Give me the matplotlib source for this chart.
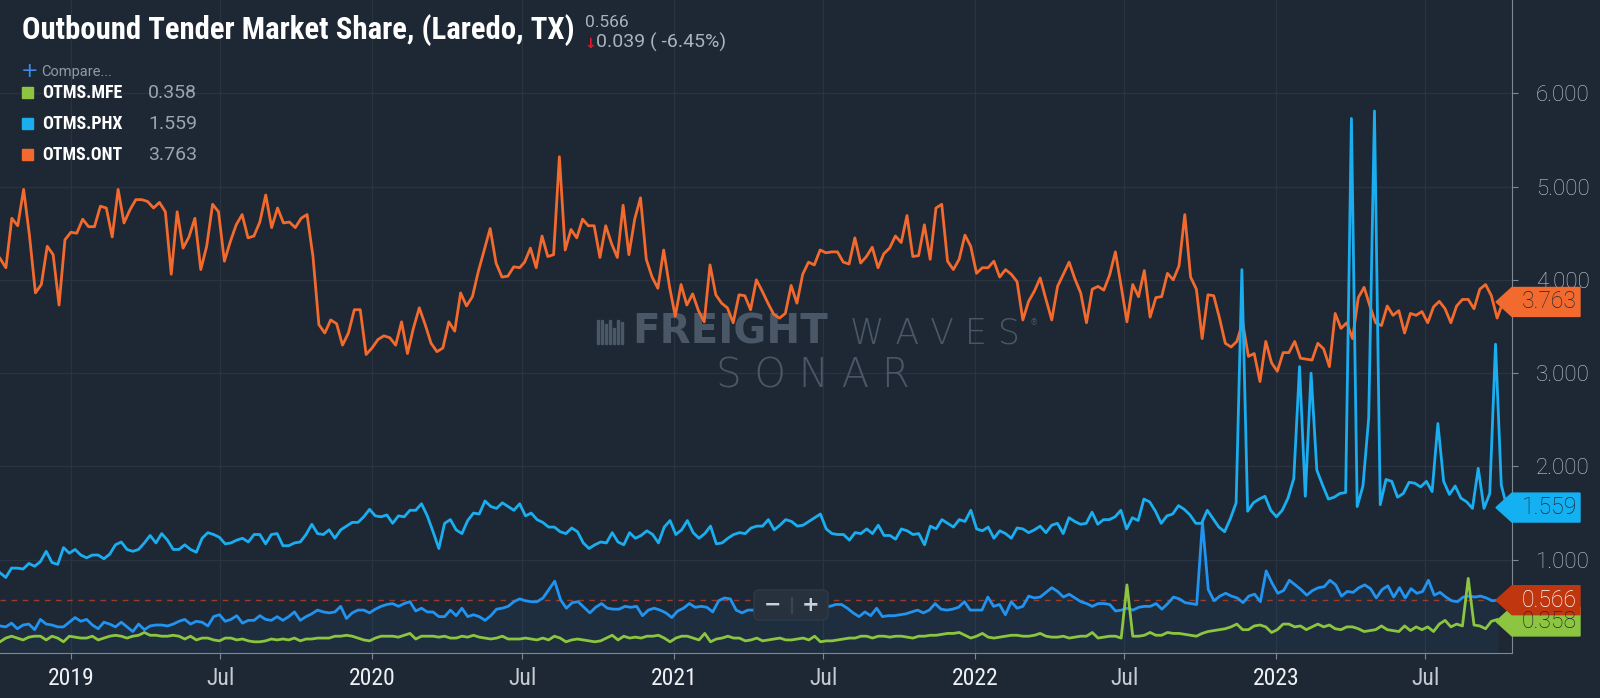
"""
Outbound Tender Market Share (Laredo, TX) - SONAR style chart recreation.
"""

import numpy as np
import pandas as pd
import matplotlib
matplotlib.use("Agg")
import matplotlib.pyplot as plt
import matplotlib.transforms as mtransforms
from matplotlib import font_manager as fm
from matplotlib.patches import Polygon, FancyBboxPatch, Rectangle

# ── data (weekly in three date spans) ───────────────────────────────────────
ont_spans = [("2018-10-07", "2020-06-28"), ("2020-07-04", "2022-02-21"),
             ("2022-02-28", "2023-10-03")]
ont_a = [4.23, 4.13, 4.66, 4.58, 4.97, 4.47, 3.86, 3.95, 4.36, 4.27,
         3.73, 4.43, 4.51, 4.50, 4.65, 4.57, 4.57, 4.79, 4.77, 4.46,
         4.97, 4.61, 4.75, 4.86, 4.86, 4.84, 4.77, 4.83, 4.73, 4.06,
         4.73, 4.34, 4.46, 4.66, 4.11, 4.36, 4.81, 4.73, 4.20, 4.41,
         4.59, 4.70, 4.45, 4.47, 4.62, 4.91, 4.56, 4.77, 4.61, 4.62,
         4.56, 4.66, 4.70, 4.25, 3.52, 3.43, 3.57, 3.53, 3.30, 3.43,
         3.68, 3.68, 3.20, 3.27, 3.36, 3.40, 3.38, 3.30, 3.55, 3.21,
         3.48, 3.70, 3.52, 3.32, 3.23, 3.27, 3.55, 3.45, 3.86, 3.72,
         3.82, 4.09, 4.32, 4.55, 4.18, 4.03, 4.04, 4.14, 4.13]
ont_b = [4.19, 4.34, 4.13, 4.47, 4.25, 4.27, 5.32, 4.32, 4.54, 4.45,
         4.65, 4.58, 4.58, 4.24, 4.58, 4.39, 4.24, 4.80, 4.27, 4.65,
         4.88, 4.22, 4.03, 3.91, 4.32, 3.93, 3.61, 3.95, 3.73, 3.85,
         3.67, 3.55, 4.16, 3.84, 3.75, 3.70, 3.54, 3.84, 3.83, 3.68,
         4.00, 3.88, 3.75, 3.63, 3.59, 3.64, 3.94, 3.75, 4.06, 4.19,
         4.16, 4.32, 4.29, 4.30, 4.30, 4.19, 4.17, 4.45, 4.18, 4.25,
         4.35, 4.13, 4.28, 4.34, 4.47, 4.40, 4.69, 4.25, 4.26, 4.59,
         4.22, 4.77, 4.81, 4.20, 4.11, 4.22, 4.48, 4.36, 4.07, 4.13,
         4.13, 4.20, 4.03, 4.11, 4.06, 3.98]
ont_c = [3.57, 3.77, 3.88, 4.02, 3.79, 3.57, 3.93, 4.06, 4.19, 4.01,
         3.86, 3.54, 3.90, 3.93, 3.89, 4.05, 4.30, 3.93, 3.55, 3.95,
         3.82, 4.10, 3.60, 3.81, 3.82, 4.07, 4.00, 4.15, 4.70, 4.03,
         3.90, 3.37, 3.84, 3.83, 3.59, 3.32, 3.28, 3.34, 3.54, 3.18,
         3.21, 2.91, 3.34, 3.11, 3.02, 3.22, 3.22, 3.34, 3.16, 3.15,
         3.14, 3.32, 3.26, 3.07, 3.64, 3.48, 3.54, 3.37, 3.81, 3.92,
         3.72, 3.54, 3.51, 3.72, 3.62, 3.67, 3.43, 3.64, 3.62, 3.66,
         3.54, 3.71, 3.77, 3.69, 3.54, 3.72, 3.79, 3.79, 3.69, 3.90,
         3.95, 3.83, 3.59, 3.763]

phx_spans = [("2018-10-07", "2020-06-28"), ("2020-07-05", "2022-02-21"),
             ("2022-02-28", "2023-10-08")]
phx_a = [0.86, 0.81, 0.91, 0.91, 0.90, 0.96, 0.93, 0.98, 1.09, 0.97,
         0.95, 1.13, 1.07, 1.11, 1.05, 1.02, 1.05, 1.05, 1.01, 1.06,
         1.16, 1.19, 1.11, 1.09, 1.11, 1.18, 1.26, 1.18, 1.28, 1.21,
         1.11, 1.11, 1.16, 1.11, 1.08, 1.23, 1.29, 1.27, 1.24, 1.17,
         1.18, 1.21, 1.23, 1.19, 1.27, 1.27, 1.17, 1.27, 1.28, 1.15,
         1.15, 1.18, 1.19, 1.27, 1.38, 1.28, 1.27, 1.32, 1.23, 1.32,
         1.36, 1.40, 1.40, 1.46, 1.54, 1.47, 1.46, 1.48, 1.39, 1.47,
         1.46, 1.53, 1.53, 1.60, 1.47, 1.30, 1.12, 1.39, 1.43, 1.32,
         1.28, 1.42, 1.50, 1.49, 1.63, 1.57, 1.55, 1.61, 1.57, 1.53,
         1.60]
phx_b = [1.47, 1.50, 1.43, 1.40, 1.35, 1.35, 1.30, 1.28, 1.34, 1.30,
         1.18, 1.12, 1.16, 1.19, 1.18, 1.29, 1.19, 1.16, 1.29, 1.23,
         1.26, 1.31, 1.27, 1.18, 1.35, 1.42, 1.27, 1.32, 1.42, 1.29,
         1.23, 1.28, 1.36, 1.17, 1.18, 1.23, 1.27, 1.29, 1.28, 1.34,
         1.36, 1.36, 1.43, 1.32, 1.37, 1.43, 1.41, 1.36, 1.37, 1.41,
         1.45, 1.49, 1.33, 1.28, 1.27, 1.27, 1.21, 1.29, 1.28, 1.33,
         1.28, 1.37, 1.26, 1.26, 1.22, 1.33, 1.31, 1.27, 1.28, 1.16,
         1.36, 1.33, 1.43, 1.39, 1.35, 1.43, 1.41, 1.53, 1.33, 1.31,
         1.35, 1.23, 1.31, 1.28, 1.23, 1.34]
phx_c = [1.33, 1.29, 1.32, 1.36, 1.29, 1.37, 1.39, 1.28, 1.45, 1.41,
         1.38, 1.39, 1.51, 1.38, 1.43, 1.43, 1.46, 1.53, 1.33, 1.45,
         1.42, 1.65, 1.62, 1.52, 1.39, 1.47, 1.49, 1.58, 1.54, 1.48,
         1.39, 1.39, 1.53, 1.44, 1.35, 1.30, 1.44, 1.61, 4.11, 1.52,
         1.61, 1.65, 1.68, 1.53, 1.46, 1.53, 1.66, 1.87, 3.07, 1.68,
         3.00, 1.96, 1.80, 1.65, 1.67, 1.71, 1.72, 5.73, 1.57, 1.79,
         2.52, 5.81, 1.59, 1.86, 1.84, 1.67, 1.71, 1.83, 1.82, 1.78,
         1.84, 1.73, 2.46, 1.84, 1.70, 1.79, 1.66, 1.62, 1.55, 1.98,
         1.55, 1.71, 3.31, 1.80, 1.559]

laredo_spans = [("2018-10-07", "2020-06-28"), ("2020-07-05", "2022-02-21"),
                ("2022-02-28", "2023-09-27")]
laredo_a = [0.29, 0.28, 0.32, 0.26, 0.30, 0.31, 0.25, 0.36, 0.31, 0.30,
            0.28, 0.28, 0.33, 0.38, 0.34, 0.36, 0.30, 0.26, 0.33, 0.31,
            0.28, 0.33, 0.28, 0.23, 0.31, 0.25, 0.29, 0.30, 0.30, 0.29,
            0.31, 0.34, 0.36, 0.31, 0.34, 0.33, 0.29, 0.39, 0.41, 0.34,
            0.36, 0.40, 0.32, 0.35, 0.35, 0.40, 0.36, 0.35, 0.39, 0.35,
            0.39, 0.44, 0.35, 0.39, 0.42, 0.46, 0.44, 0.43, 0.44, 0.50,
            0.37, 0.43, 0.46, 0.46, 0.43, 0.47, 0.50, 0.52, 0.53, 0.50,
            0.53, 0.55, 0.45, 0.48, 0.44, 0.44, 0.39, 0.39, 0.46, 0.40,
            0.48, 0.39, 0.41, 0.39, 0.35, 0.40, 0.47, 0.48, 0.50, 0.55,
            0.58]
laredo_b = [0.56, 0.55, 0.55, 0.59, 0.68, 0.77, 0.57, 0.48, 0.54, 0.55,
            0.49, 0.43, 0.49, 0.53, 0.48, 0.47, 0.47, 0.50, 0.49, 0.50,
            0.40, 0.46, 0.48, 0.46, 0.43, 0.38, 0.45, 0.48, 0.53, 0.49,
            0.50, 0.49, 0.44, 0.56, 0.59, 0.58, 0.46, 0.43, 0.46, 0.46,
            0.47, 0.48, 0.50, 0.49, 0.47, 0.48, 0.50, 0.49, 0.48, 0.50,
            0.51, 0.50, 0.50, 0.52, 0.52, 0.48, 0.43, 0.39, 0.44, 0.40,
            0.48, 0.39, 0.40, 0.40, 0.41, 0.42, 0.44, 0.46, 0.43, 0.46,
            0.53, 0.47, 0.46, 0.47, 0.49, 0.55, 0.46, 0.46, 0.46, 0.60,
            0.50, 0.52, 0.41, 0.55, 0.48]
laredo_c = [0.50, 0.61, 0.59, 0.60, 0.65, 0.70, 0.66, 0.60, 0.63, 0.59,
            0.55, 0.53, 0.50, 0.53, 0.53, 0.52, 0.45, 0.46, 0.48, 0.46,
            0.49, 0.50, 0.50, 0.53, 0.47, 0.53, 0.60, 0.58, 0.54, 0.53,
            0.52, 1.40, 0.68, 0.56, 0.61, 0.64, 0.61, 0.59, 0.54, 0.61,
            0.63, 0.55, 0.88, 0.75, 0.64, 0.67, 0.78, 0.73, 0.68, 0.62,
            0.67, 0.70, 0.71, 0.78, 0.73, 0.61, 0.66, 0.65, 0.70, 0.73,
            0.69, 0.59, 0.68, 0.72, 0.60, 0.70, 0.59, 0.69, 0.64, 0.66,
            0.78, 0.62, 0.65, 0.60, 0.56, 0.55, 0.60, 0.61, 0.60, 0.61,
            0.59, 0.56, 0.566]

mfe_spans = [("2018-10-07", "2020-06-28"), ("2020-07-05", "2022-02-21"),
             ("2022-02-28", "2023-09-26")]
mfe_a = [0.12, 0.16, 0.18, 0.16, 0.14, 0.17, 0.18, 0.18, 0.14, 0.18,
         0.16, 0.12, 0.18, 0.17, 0.16, 0.16, 0.18, 0.14, 0.16, 0.18,
         0.19, 0.18, 0.16, 0.18, 0.19, 0.22, 0.19, 0.19, 0.18, 0.18,
         0.19, 0.18, 0.15, 0.18, 0.14, 0.16, 0.16, 0.14, 0.13, 0.16,
         0.16, 0.14, 0.15, 0.13, 0.12, 0.12, 0.13, 0.15, 0.14, 0.15,
         0.14, 0.16, 0.13, 0.15, 0.15, 0.16, 0.16, 0.16, 0.18, 0.18,
         0.19, 0.18, 0.16, 0.14, 0.13, 0.16, 0.18, 0.18, 0.18, 0.17,
         0.19, 0.21, 0.15, 0.18, 0.18, 0.18, 0.17, 0.18, 0.16, 0.16,
         0.18, 0.17, 0.19, 0.17, 0.16, 0.15, 0.16, 0.18, 0.15, 0.15,
         0.15]
mfe_b = [0.16, 0.15, 0.14, 0.16, 0.14, 0.18, 0.16, 0.12, 0.14, 0.15,
         0.14, 0.13, 0.12, 0.13, 0.16, 0.19, 0.14, 0.18, 0.16, 0.17,
         0.16, 0.18, 0.18, 0.19, 0.16, 0.12, 0.16, 0.18, 0.18, 0.16,
         0.14, 0.21, 0.12, 0.15, 0.16, 0.18, 0.16, 0.16, 0.13, 0.14,
         0.16, 0.13, 0.14, 0.15, 0.16, 0.14, 0.14, 0.15, 0.16, 0.14,
         0.18, 0.12, 0.13, 0.13, 0.14, 0.15, 0.16, 0.16, 0.18, 0.18,
         0.16, 0.18, 0.18, 0.17, 0.18, 0.18, 0.17, 0.16, 0.18, 0.18,
         0.19, 0.19, 0.20, 0.21, 0.21, 0.22, 0.19, 0.16, 0.18, 0.21,
         0.17, 0.16, 0.17, 0.18, 0.19, 0.19]
mfe_c = [0.18, 0.18, 0.19, 0.21, 0.18, 0.17, 0.17, 0.18, 0.16, 0.17,
         0.18, 0.18, 0.22, 0.16, 0.17, 0.18, 0.18, 0.16, 0.73, 0.18,
         0.18, 0.19, 0.22, 0.19, 0.19, 0.22, 0.21, 0.21, 0.20, 0.19,
         0.18, 0.21, 0.23, 0.24, 0.25, 0.26, 0.28, 0.31, 0.25, 0.25,
         0.29, 0.30, 0.28, 0.22, 0.25, 0.31, 0.31, 0.28, 0.29, 0.25,
         0.28, 0.31, 0.28, 0.30, 0.26, 0.25, 0.28, 0.28, 0.26, 0.23,
         0.24, 0.25, 0.29, 0.25, 0.24, 0.23, 0.29, 0.24, 0.28, 0.25,
         0.28, 0.23, 0.31, 0.35, 0.28, 0.31, 0.29, 0.80, 0.30, 0.29,
         0.26, 0.34, 0.358]

tick_dates = ["2019-01-01", "2019-07-01", "2020-01-01", "2020-07-01", "2021-01-01",
              "2021-07-01", "2022-01-01", "2022-07-01", "2023-01-01", "2023-07-01"]
tick_labels = ["2019", "Jul", "2020", "Jul", "2021", "Jul", "2022", "Jul", "2023", "Jul"]
y_ticks = [1, 2, 3, 4, 5, 6]
change_text = "0.039 ( -6.45%)"

# ── style ───────────────────────────────────────────────────────────────────
W, H = 1600, 698
BG = "#1e2834"
GRID = "#2a3441"
C_ONT, C_PHX, C_LRD, C_MFE = "#f26a2d", "#1aaef0", "#2193f0", "#8cc540"
SANS = ["Roboto", "DejaVu Sans"]
PIX = mtransforms.IdentityTransform()


def narrow_font(weight):
    """Pick a condensed face if one is installed, else plain Roboto."""
    prefer = ["Liberation Sans Narrow", "Roboto Condensed", "Noto Sans",
              "Open Sans", "DejaVu Sans"]
    hits = [f for f in fm.fontManager.ttflist
            if ("ondensed" in str(f.stretch) or "Narrow" in f.name or "Condensed" in f.name)
            and f.style == "normal" and abs(int(f.weight) - weight) < 60]
    hits.sort(key=lambda f: next((i for i, p in enumerate(prefer) if f.name.startswith(p)), 99))
    if hits:
        return fm.FontProperties(fname=hits[0].fname)
    return fm.FontProperties(family="Roboto", weight=weight)


NARROW_B = narrow_font(700)
NARROW_R = narrow_font(400)


def px(x, y):
    return x / W, 1 - y / H


def ftext(x, y, s, **kw):
    return fig.text(*px(x, y), s, **kw)


def fit_width(txt, width):
    fig.canvas.draw()
    w = txt.get_window_extent().width
    txt.set_fontsize(txt.get_fontsize() * width / w)


def series(spans, *chunks):
    dates = [pd.date_range(a, b, periods=len(c)) for (a, b), c in zip(spans, chunks)]
    vals = [v for c in chunks for v in c]
    return dates[0].append(dates[1:]), vals


fig = plt.figure(figsize=(W / 100, H / 100), dpi=100, facecolor=BG)
ax = fig.add_axes([0, 1 - 653 / H, 1512 / W, 653 / H], facecolor=BG)

d_ont, ont = series(ont_spans, ont_a, ont_b, ont_c)
d_phx, phx = series(phx_spans, phx_a, phx_b, phx_c)
d_lrd, laredo = series(laredo_spans, laredo_a, laredo_b, laredo_c)
d_mfe, mfe = series(mfe_spans, mfe_a, mfe_b, mfe_c)

ax.plot(d_ont, ont, color=C_ONT, lw=2.0, zorder=3)
ax.fill_between(d_lrd, laredo, 0, color=C_LRD, alpha=0.06, lw=0, zorder=2)
ax.plot(d_lrd, laredo, color=C_LRD, lw=2.0, zorder=4)
ax.plot(d_phx, phx, color=C_PHX, lw=2.0, zorder=5)
ax.plot(d_mfe, mfe, color=C_MFE, lw=2.0, zorder=6)
ax.axhline(laredo[-1], color="#9c3a2c", lw=1, ls=(0, (4, 4)), zorder=3)

ax.set_xlim(pd.Timestamp("2018-10-07"), pd.Timestamp("2023-10-14"))
ax.set_ylim(0, 7.0)

# axes + grid
for s in ["top", "left"]:
    ax.spines[s].set_visible(False)
ax.spines["right"].set_color("#7d8893")
ax.spines["bottom"].set_color("#7d8893")
ax.yaxis.tick_right()
ax.set_yticks(y_ticks)
ax.set_yticklabels([f"{v:.3f}" for v in y_ticks])
ax.set_xticks(pd.to_datetime(tick_dates))
ax.set_xticklabels(tick_labels)
ax.grid(True, color=GRID, lw=0.9, zorder=0)
ax.set_axisbelow(True)
ax.tick_params(axis="y", colors="#7d8893", length=4, pad=13, labelsize=16,
               labelcolor="#c3cad2")
ax.tick_params(axis="x", colors="#7d8893", length=4, pad=6)
for lab in ax.get_yticklabels():
    lab.set_family(SANS)
    lab.set_fontweight("light")
for lab in ax.get_xticklabels():
    lab.set_fontproperties(NARROW_R)
    lab.set_fontsize(17)
    lab.set_color("#eef1f4" if lab.get_text() != "Jul" else "#c3cad2")

# watermark
wm = "#4a5767"
ax.text(*px(632, 344), "FREIGHT", transform=fig.transFigure, color=wm,
        fontsize=29, fontweight="heavy", family=["DejaVu Sans"], va="baseline", zorder=1)
ax.text(*px(850, 344), "W A V E S", transform=fig.transFigure, color=wm,
        fontsize=25, fontweight="light", family=["DejaVu Sans"], va="baseline", zorder=1)
ax.text(*px(1030, 325), "®", transform=fig.transFigure, color=wm,
        fontsize=6, va="baseline", zorder=1)
ax.text(*px(813, 387), "S O N A R", transform=fig.transFigure, color=wm,
        fontsize=29, fontweight="light", family=["DejaVu Sans"], ha="center",
        va="baseline", zorder=1)
for i, hgt in enumerate([24, 24, 20, 24, 16, 24, 22]):
    fig.add_artist(Rectangle((597 + i * 4, H - 344), 2.2, hgt, color=wm,
                             transform=PIX, zorder=1))

# header
title = ftext(22, 39, "Outbound Tender Market Share, (Laredo, TX)", color="white",
              fontproperties=NARROW_B, fontsize=22, va="baseline")
fit_width(title, 553)
ftext(585, 27, f"{laredo[-1]:.3f}", color="#a9b3be", fontsize=12.5, family=SANS,
      va="baseline")
ftext(584, 48, "↓", color="#e3182d", fontsize=10, fontweight="bold",
      family=["DejaVu Sans"], va="baseline")
ftext(596, 48, change_text, color="#a9b3be", fontsize=14, family=SANS, va="baseline")
ftext(21, 77, "+", color="#3b8de6", fontsize=15, family=["DejaVu Sans"], va="baseline")
ftext(41, 76, "Compare...", color="#8e9aa7", fontsize=10.5, family=SANS, va="baseline")

legend_names = ["OTMS.MFE", "OTMS.PHX", "OTMS.ONT"]
legend_vals = [mfe[-1], phx[-1], ont[-1]]
legend_cols = [C_MFE, C_PHX, C_ONT]
for i, (name, val, col) in enumerate(zip(legend_names, legend_vals, legend_cols)):
    yc = 92 + i * 31
    fig.add_artist(Rectangle((22, H - yc - 5.5), 11, 11, color=col, transform=PIX))
    lab = ftext(42, yc + 1, name, color="white", fontproperties=NARROW_B,
                fontsize=14, va="center")
    fit_width(lab, 81)
    ftext(148, yc + 1, f"{val:.3f}", color="#9aa5b0", fontsize=14, family=SANS,
          va="center")

# value tags on the right axis
blend = mtransforms.blended_transform_factory(fig.transFigure, ax.transData)


def tag(value, color, txt_color, nudge=0.0):
    x0, x1, x2 = 1496 / W, 1512 / W, 1580 / W
    y, h = value + nudge, 0.155
    pts = [(x0, y), (x1, y + h), (x2, y + h), (x2, y - h), (x1, y - h)]
    ax.add_patch(Polygon(pts, closed=True, color=color, transform=blend,
                         clip_on=False, zorder=10))
    ax.text(1577 / W, y, f"{value:.3f}", transform=blend, color=txt_color,
            fontsize=16.5, family=SANS, fontweight="light", ha="right", va="center",
            clip_on=False, zorder=11)


tag(ont[-1], C_ONT, "#1e2834")
tag(phx[-1], "#13b1f2", "#1e2834")
tag(mfe[-1], C_MFE, "#1e2834", nudge=-0.02)
tag(laredo[-1], "#c0370f", "white")

# zoom buttons
fig.add_artist(FancyBboxPatch((754, H - 620), 74, 30, boxstyle="round,pad=0,rounding_size=5",
                              fc="#27313d", ec="#2f3a47", lw=1, transform=PIX, zorder=12))
fig.add_artist(Rectangle((791, H - 613), 1, 16, color="#3a4552", transform=PIX, zorder=13))
ftext(773, 605, "−", color="#c9d0d8", fontsize=15, fontweight="bold",
      family=["DejaVu Sans"], ha="center", va="center", zorder=13)
ftext(811, 605, "+", color="#c9d0d8", fontsize=15, fontweight="bold",
      family=["DejaVu Sans"], ha="center", va="center", zorder=13)

fig.savefig("out.png", dpi=100, facecolor=BG)
